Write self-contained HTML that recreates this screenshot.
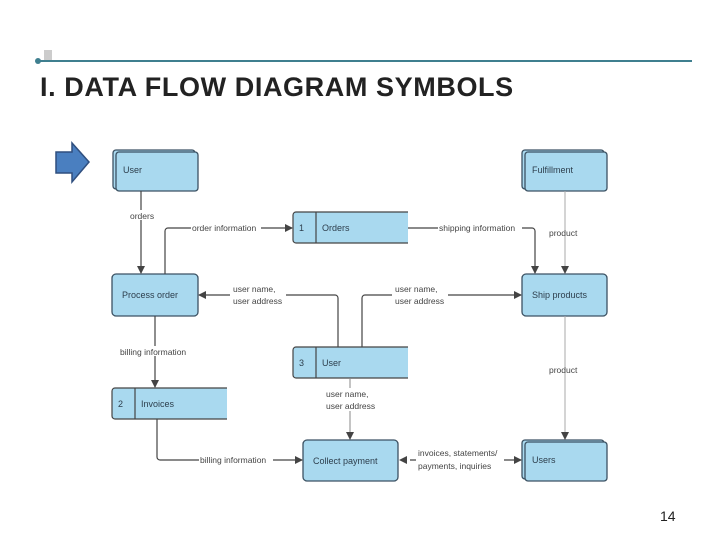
<!DOCTYPE html>
<html><head><meta charset="utf-8"><style>
html,body{margin:0;padding:0;background:#fff;}
svg{display:block;font-family:"Liberation Sans",sans-serif;}
.b{fill:#a9d9ef;stroke:#3c5263;stroke-width:1.3;}
.t{font-size:9px;fill:#2d3e4c;}
.l{font-size:8.5px;fill:#444;}
.c{stroke:#444;stroke-width:1.2;fill:none;}
.g{stroke:#aaa;stroke-width:1;fill:none;}
</style></head><body>
<svg width="720" height="540" viewBox="0 0 720 540">
<defs><marker id="a" markerWidth="8" markerHeight="8" refX="7" refY="4" orient="auto" markerUnits="userSpaceOnUse"><path d="M0,0 L8,4 L0,8z" fill="#444"/></marker></defs>
<rect x="44" y="50" width="8" height="10" fill="#ccc"/>
<line x1="38" y1="61" x2="692" y2="61" stroke="#3f7f8f" stroke-width="2"/>
<circle cx="38" cy="61" r="3" fill="#3f7f8f"/>
<text x="40" y="96" font-size="27" font-weight="bold" fill="#222" letter-spacing="0.6">I. DATA FLOW DIAGRAM SYMBOLS</text>
<path d="M56,152 L72,152 L72,143 L89,162 L72,182 L72,173 L56,173z" fill="#4a7fc0" stroke="#2f4f7f" stroke-width="1.5"/>
<!-- externals -->
<rect class="b" x="113" y="150" width="82" height="39" rx="3"/><rect class="b" x="116" y="152" width="82" height="39" rx="3"/><text class="t" x="123" y="173">User</text>
<rect class="b" x="522" y="150" width="82" height="39" rx="3"/><rect class="b" x="525" y="152" width="82" height="39" rx="3"/><text class="t" x="532" y="173">Fulfillment</text>
<rect class="b" x="522" y="440" width="82" height="39" rx="3"/><rect class="b" x="525" y="442" width="82" height="39" rx="3"/><text class="t" x="532" y="463">Users</text>
<!-- processes -->
<rect class="b" x="112" y="274" width="86" height="42" rx="4"/><text class="t" x="122" y="298">Process order</text>
<rect class="b" x="522" y="274" width="85" height="42" rx="4"/><text class="t" x="532" y="298">Ship products</text>
<rect class="b" x="303" y="440" width="95" height="41" rx="4"/><text class="t" x="313" y="464">Collect payment</text>
<!-- stores -->
<path d="M408,212 H296 a3,3 0 0 0 -3,3 V240 a3,3 0 0 0 3,3 H408z" fill="#a9d9ef"/><path class="c" d="M408,212 H296 a3,3 0 0 0 -3,3 V240 a3,3 0 0 0 3,3 H408 M316,212 V243" stroke="#3c5263"/><text class="t" x="299" y="231">1</text><text class="t" x="322" y="231">Orders</text>
<path d="M408,347 H296 a3,3 0 0 0 -3,3 V375 a3,3 0 0 0 3,3 H408z" fill="#a9d9ef"/><path class="c" d="M408,347 H296 a3,3 0 0 0 -3,3 V375 a3,3 0 0 0 3,3 H408 M316,347 V378" stroke="#3c5263"/><text class="t" x="299" y="366">3</text><text class="t" x="322" y="366">User</text>
<path d="M227,388 H115 a3,3 0 0 0 -3,3 V416 a3,3 0 0 0 3,3 H227z" fill="#a9d9ef"/><path class="c" d="M227,388 H115 a3,3 0 0 0 -3,3 V416 a3,3 0 0 0 3,3 H227 M135,388 V419" stroke="#3c5263"/><text class="t" x="118" y="407">2</text><text class="t" x="141" y="407">Invoices</text>
<!-- connectors -->
<path class="c" d="M141,191 V273" marker-end="url(#a)"/>
<rect x="128" y="210" width="28" height="10" fill="#fff"/><text class="l" x="130" y="219">orders</text>
<path class="c" d="M165,274 V231 a3,3 0 0 1 3,-3 H292" marker-end="url(#a)"/>
<rect x="191" y="222" width="70" height="10" fill="#fff"/><text class="l" x="192" y="231">order information</text>
<path class="c" d="M408,228 H532 a3,3 0 0 1 3,3 V273" marker-end="url(#a)"/>
<rect x="438" y="222" width="84" height="10" fill="#fff"/><text class="l" x="439" y="231">shipping information</text>
<path class="g" d="M565,191 V273" marker-end="url(#a)"/>
<text class="l" x="549" y="236">product</text>
<path class="c" d="M338,347 V298 a3,3 0 0 0 -3,-3 H199" marker-end="url(#a)"/>
<rect x="230" y="283" width="56" height="23" fill="#fff"/><text class="l" x="233" y="292">user name,</text><text class="l" x="233" y="304">user address</text>
<path class="c" d="M362,347 V298 a3,3 0 0 1 3,-3 H521" marker-end="url(#a)"/>
<rect x="392" y="283" width="56" height="23" fill="#fff"/><text class="l" x="395" y="292">user name,</text><text class="l" x="395" y="304">user address</text>
<path class="c" d="M155,316 V387" marker-end="url(#a)"/>
<rect x="118" y="346" width="76" height="10" fill="#fff"/><text class="l" x="120" y="355">billing information</text>
<path class="c" d="M157,419 V457 a3,3 0 0 0 3,3 H302" marker-end="url(#a)"/>
<rect x="199" y="455" width="74" height="10" fill="#fff"/><text class="l" x="200" y="463">billing information</text>
<path class="g" d="M350,378 V439" marker-end="url(#a)" style="stroke:#888"/>
<rect x="324" y="388" width="56" height="23" fill="#fff"/><text class="l" x="326" y="397">user name,</text><text class="l" x="326" y="409">user address</text>
<path class="c" d="M410,460 H521" marker-end="url(#a)"/>
<path d="M399,460 L407,456 L407,464z" fill="#444"/>
<rect x="416" y="448" width="88" height="24" fill="#fff"/><text class="l" x="418" y="456">invoices, statements/</text><text class="l" x="418" y="469">payments, inquiries</text>
<path class="g" d="M565,316 V439" marker-end="url(#a)"/>
<text class="l" x="549" y="373">product</text>
<text x="660" y="521" font-size="14" fill="#222">14</text>
</svg>
</body></html>
